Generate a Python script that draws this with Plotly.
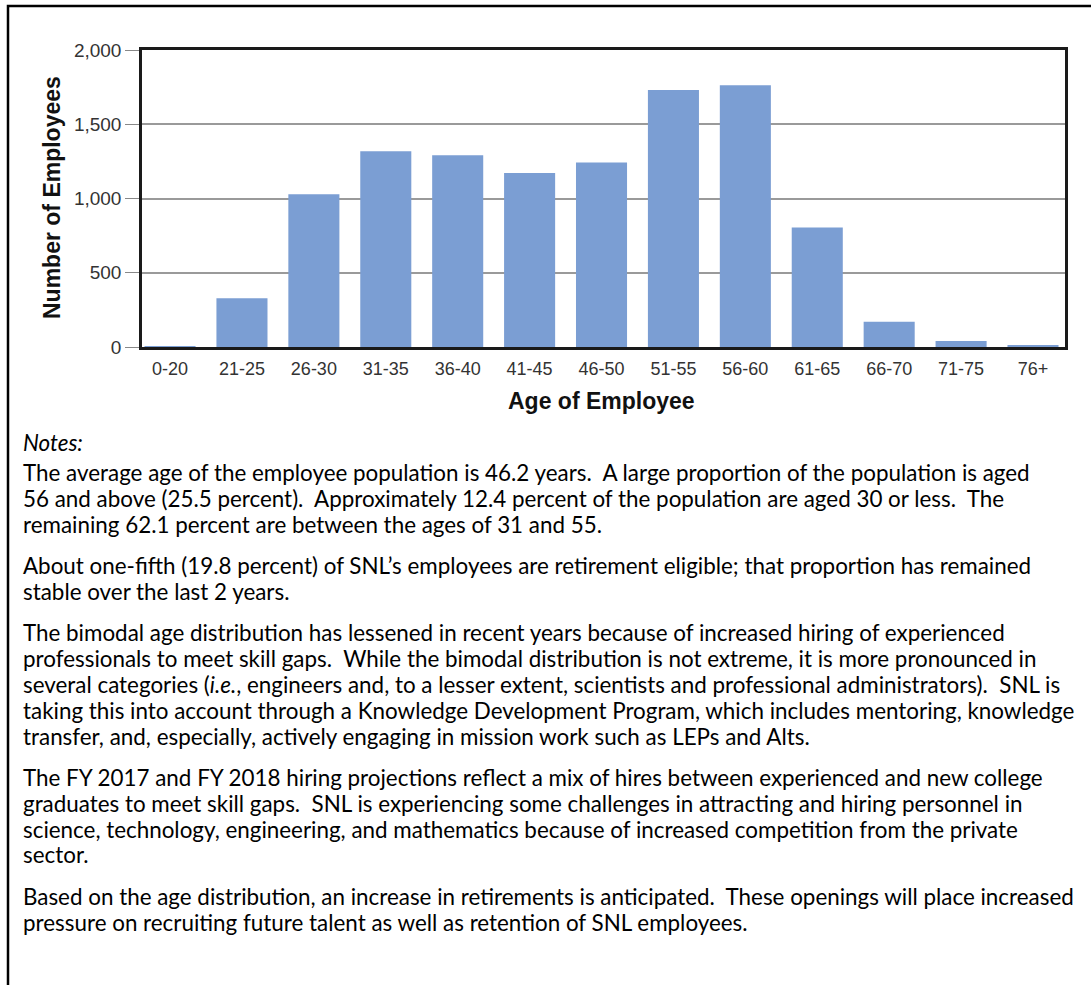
import plotly.graph_objects as go

categories = ["0-20", "21-25", "26-30", "31-35", "36-40", "41-45", "46-50",
              "51-55", "56-60", "61-65", "66-70", "71-75", "76+"]
employees = [3, 328, 1028, 1318, 1291, 1172, 1243, 1730, 1762, 805, 170, 40, 12]
y_ticks = [0, 500, 1000, 1500, 2000]

notes_title = "<i>Notes:</i>"
notes_paragraphs = [
    ["The average age of the employee population is 46.2 years.\u00a0 A large proportion of the population is aged",
     "56 and above (25.5 percent).\u00a0 Approximately 12.4 percent of the population are aged 30 or less.\u00a0 The",
     "remaining 62.1 percent are between the ages of 31 and 55."],
    ["About one-fifth (19.8 percent) of SNL\u2019s employees are retirement eligible; that proportion has remained",
     "stable over the last 2 years."],
    ["The bimodal age distribution has lessened in recent years because of increased hiring of experienced",
     "professionals to meet skill gaps.\u00a0 While the bimodal distribution is not extreme, it is more pronounced in",
     "several categories (<i>i.e.</i>, engineers and, to a lesser extent, scientists and professional administrators).\u00a0 SNL is",
     "taking this into account through a Knowledge Development Program, which includes mentoring, knowledge",
     "transfer, and, especially, actively engaging in mission work such as LEPs and Alts."],
    ["The FY 2017 and FY 2018 hiring projections reflect a mix of hires between experienced and new college",
     "graduates to meet skill gaps.\u00a0 SNL is experiencing some challenges in attracting and hiring personnel in",
     "science, technology, engineering, and mathematics because of increased competition from the private",
     "sector."],
    ["Based on the age distribution, an increase in retirements is anticipated.\u00a0 These openings will place increased",
     "pressure on recruiting future talent as well as retention of SNL employees."],
]

W, H = 1091, 985
L, R, T, B = 142, 1065, 50, 347  # plot area in pixels


def px_x(px):
    return (px - L) / (R - L)


def px_y(py):
    return (B - py) / (B - T)


fig = go.Figure()
fig.add_trace(go.Bar(
    x=categories, y=employees,
    marker=dict(color="#7B9ED3", line=dict(width=0)),
    hoverinfo="x+y",
))

chart_font = "Liberation Sans, Arial, sans-serif"
note_font = "Lato, Open Sans, sans-serif"

annotations = []
annotations.append(dict(text="<b>Age of Employee</b>", x=px_x(601), y=px_y(401),
                        xref="paper", yref="paper", showarrow=False,
                        font=dict(family=chart_font, size=23, color="#111"),
                        xanchor="center", yanchor="middle"))
annotations.append(dict(text="<b>Number of Employees</b>", x=px_x(52), y=px_y(198),
                        xref="paper", yref="paper", showarrow=False, textangle=-90,
                        font=dict(family=chart_font, size=23, color="#111"),
                        xanchor="center", yanchor="middle"))

note_size = 22.4
annotations.append(dict(text=notes_title, x=px_x(21), y=px_y(442), xref="paper", yref="paper",
                        showarrow=False, xanchor="left", yanchor="middle",
                        font=dict(family=note_font, size=note_size, color="#000")))
y = 472
for para in notes_paragraphs:
    for line in para:
        annotations.append(dict(text=line, x=px_x(21), y=px_y(y), xref="paper", yref="paper",
                                showarrow=False, xanchor="left", yanchor="middle",
                                font=dict(family=note_font, size=note_size, color="#000")))
        y += 26
    y += 15

shapes = [
    dict(type="rect", xref="paper", yref="paper",
         x0=px_x(8), x1=px_x(W + 10), y0=px_y(6), y1=px_y(H + 10),
         line=dict(color="#000", width=2.5), fillcolor="rgba(0,0,0,0)", layer="below"),
]

fig.update_layout(
    width=W, height=H,
    margin=dict(l=L, r=W - R, t=T, b=H - B, pad=0),
    paper_bgcolor="white", plot_bgcolor="white",
    showlegend=False,
    bargap=0.29,
    font=dict(family=chart_font, color="#333"),
    annotations=annotations,
    shapes=shapes,
    xaxis=dict(
        type="category", range=[-0.39, 12.445],
        showline=True, linecolor="#1a1a1a", linewidth=2.5, mirror=True,
        ticks="", tickfont=dict(family=chart_font, size=18, color="#333"),
        ticklabelstandoff=4, showgrid=False, fixedrange=True,
    ),
    yaxis=dict(
        range=[0, 2000], tickvals=y_ticks, tickformat=",",
        showline=True, linecolor="#1a1a1a", linewidth=2.5, mirror=True,
        ticks="outside", ticklen=14, tickcolor="#888", tickwidth=1,
        tickfont=dict(family=chart_font, size=19, color="#333"),
        showgrid=True, gridcolor="#9A9A9A", gridwidth=2,
        zeroline=False, fixedrange=True,
    ),
)

fig.write_html("out.html", config={"displayModeBar": False},
               post_script="document.body.style.margin='0';")
